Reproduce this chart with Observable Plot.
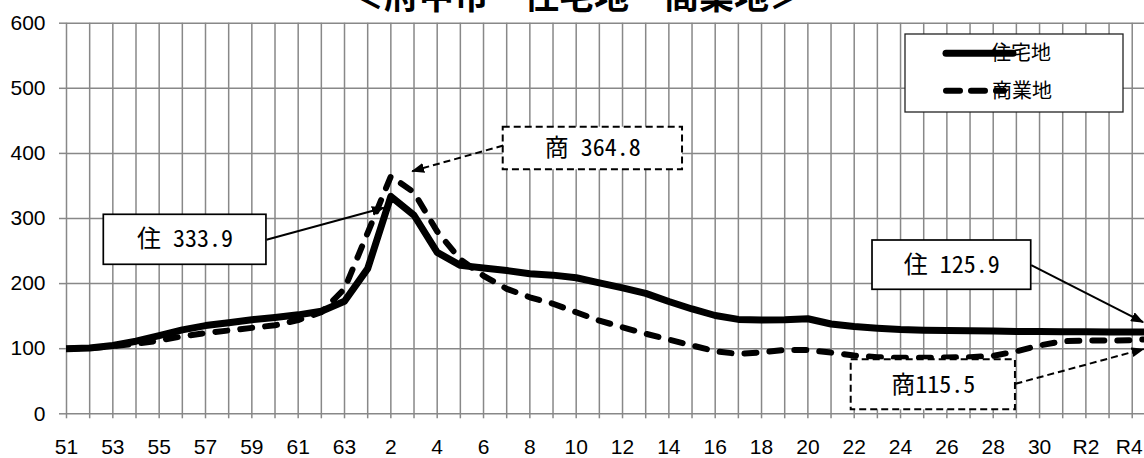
<!DOCTYPE html>
<html>
<head>
<meta charset="utf-8">
<script src="https://cdn.jsdelivr.net/npm/d3@7"></script>
<script src="https://cdn.jsdelivr.net/npm/@observablehq/plot@0.6"></script>
<style>
  html, body { margin: 0; padding: 0; background: #fff; overflow: hidden; }
  #chart { width: 1144px; height: 458px; }
</style>
</head>
<body>
<div id="chart"></div>
<script>
// ---- data ----
const years = [1976,1977,1978,1979,1980,1981,1982,1983,1984,1985,1986,1987,1988,1989,1990,1991,1992,1993,1994,1995,1996,1997,1998,1999,2000,2001,2002,2003,2004,2005,2006,2007,2008,2009,2010,2011,2012,2013,2014,2015,2016,2017,2018,2019,2020,2021,2022,2023];
const residential = [100,101,105,111.5,120,129,135.5,140,144.5,148,152,157.5,173,223,333.9,305,248,228,224,220,215,213,209,201,193.5,185,172.5,161,151,145,144,144.5,146,138,134,131.5,129.5,128.5,128,127.5,127,126.5,126.5,126,126,125.5,125.5,125.9];
const commercial = [100,101,104,107.5,112.5,119,124,128,132,136,144,156,192,278,364.8,340,280,237,212,192,179,169,156,143,133,123,114,105,96,92,94.5,98,98,94,89.5,87,86,86,86.5,87,89,96,105,111.5,112.5,112.5,113,115.5];
const seriesNames = ["住宅地", "商業地"];
const tickYears = [1976,1978,1980,1982,1984,1986,1988,1990,1992,1994,1996,1998,2000,2002,2004,2006,2008,2010,2012,2014,2016,2018,2020,2022];
const tickLabels = ["51","53","55","57","59","61","63","2","4","6","8","10","12","14","16","18","20","22","24","26","28","30","R2","R4"];
const yTicks = [0,100,200,300,400,500,600];
const titleText = "＜府中市　住宅地・商業地＞";
const calloutTexts = ["住 333.9", "商 364.8", "住 125.9", "商115.5"];

// ---- layout of callouts (in data units) ----
const callouts = [
  {text: calloutTexts[0], dashed: false, x1: 1977.61, x2: 1984.63, y1: 228.9, y2: 305.7, ax1: 1984.63, ay1: 267.3, ax2: 1989.70, ay2: 316.4},
  {text: calloutTexts[1], dashed: true,  x1: 1994.85, x2: 2002.59, y1: 374.8, y2: 440.2, ax1: 1994.85, ay1: 412.1, ax2: 1990.92, ay2: 372.7},
  {text: calloutTexts[2], dashed: false, x1: 2010.79, x2: 2017.64, y1: 190.5, y2: 266.2, ax1: 2017.64, ay1: 228.3, ax2: 2022.47, ay2: 140.7},
  {text: calloutTexts[3], dashed: true,  x1: 2009.87, x2: 2016.96, y1: 6.1,   y2: 82.9,  ax1: 2016.96, ay1: 46.1,  ax2: 2022.49, ay2: 99.5}
];

const resRows = years.map((yr, i) => ({year: yr, value: residential[i], series: seriesNames[0]}));
const comRows = years.map((yr, i) => ({year: yr, value: commercial[i], series: seriesNames[1]}));
const axisYears = years.filter(y => y <= tickYears[tickYears.length - 1]);
const labelByYear = new Map(tickYears.map((y, i) => [y, tickLabels[i]]));

const FONT = "'Noto Sans CJK JP', 'Noto Sans', sans-serif";
const TICKFONT = "'Liberation Sans', Arial, sans-serif";
const MONO = "'Noto Sans Mono CJK JP', 'Noto Sans CJK JP', sans-serif";
const GRID = "#888888";

const solidC = callouts.filter(d => !d.dashed);
const dashC = callouts.filter(d => d.dashed);

const plot = Plot.plot({
  width: 1144,
  height: 458,
  marginLeft: 66,
  marginRight: 0,
  marginTop: 22.7,
  marginBottom: 44.7,
  style: {fontFamily: FONT, fontSize: "21px", background: "white", color: "black"},
  x: {type: "linear", domain: [1976, 2022.53]},
  y: {domain: [0, 600]},
  marks: [
    Plot.ruleX(axisYears, {x: d => d, y1: 0, y2: 600, stroke: GRID, strokeWidth: 1.5}),
    Plot.ruleY(yTicks, {y: d => d, stroke: GRID, strokeWidth: 1.5}),
    Plot.axisX({ticks: axisYears, tickFormat: y => labelByYear.get(y) ?? "", tickSize: 5, tickPadding: 20, stroke: GRID, strokeWidth: 1.5, fill: "black", fontSize: 21, fontFamily: TICKFONT, label: null}),
    Plot.axisY({ticks: yTicks, tickSize: 7, tickPadding: 14, stroke: GRID, strokeWidth: 1.5, fill: "black", fontSize: 21, fontFamily: TICKFONT, label: null}),
    Plot.line(comRows, {x: "year", y: "value", stroke: "black", strokeWidth: 6, strokeDasharray: "12,13", strokeLinecap: "round", strokeLinejoin: "round", clip: true}),
    Plot.line(resRows, {x: "year", y: "value", stroke: "black", strokeWidth: 7, strokeLinejoin: "round", clip: true}),
    Plot.rect(solidC, {x1: "x1", x2: "x2", y1: "y1", y2: "y2", fill: "white", stroke: "black", strokeWidth: 1.7}),
    Plot.rect(dashC, {x1: "x1", x2: "x2", y1: "y1", y2: "y2", fill: "white", stroke: "black", strokeWidth: 2, strokeDasharray: "7,4"}),
    Plot.text(callouts, {x: d => (d.x1 + d.x2) / 2, y: d => (d.y1 + d.y2) / 2, text: "text", fontSize: 24, fontFamily: MONO, fill: "black"}),
    Plot.link(solidC, {x1: "ax1", y1: "ay1", x2: "ax2", y2: "ay2", stroke: "black", strokeWidth: 2}),
    Plot.link(dashC, {x1: "ax1", y1: "ay1", x2: "ax2", y2: "ay2", stroke: "black", strokeWidth: 2, strokeDasharray: "7,4"})
  ]
});

const svg = d3.select(plot);
const defs = svg.append("defs");
defs.append("marker")
  .attr("id", "tri")
  .attr("viewBox", "0 0 13 10")
  .attr("refX", 12)
  .attr("refY", 5)
  .attr("markerWidth", 13)
  .attr("markerHeight", 10)
  .attr("markerUnits", "userSpaceOnUse")
  .attr("orient", "auto")
  .append("path")
  .attr("d", "M0,0L13,5L0,10Z")
  .attr("fill", "black")
  .attr("stroke", "none");
svg.selectAll('g[aria-label="link"] path, g[aria-label="link"] line')
  .attr("marker-end", "url(#tri)");

// keep the last x tick label inside the picture
const lastLabel = tickLabels[tickLabels.length - 1];
svg.selectAll("text").filter(function() { return this.textContent === lastLabel; })
  .attr("dx", -3);

// title (partly cut at top as in the reference)
svg.append("text")
  .attr("x", 576.5).attr("y", 9)
  .attr("text-anchor", "middle")
  .attr("font-family", FONT)
  .attr("font-size", 35)
  .attr("font-weight", "bold")
  .attr("fill", "black")
  .text(titleText);

// legend inside the plot area
const lg = svg.append("g");
lg.append("rect").attr("x", 905).attr("y", 34).attr("width", 218).attr("height", 78)
  .attr("fill", "white").attr("stroke", "#222").attr("stroke-width", 1.3);
lg.append("line").attr("x1", 946).attr("x2", 1013).attr("y1", 53.3).attr("y2", 53.3)
  .attr("stroke", "black").attr("stroke-width", 7).attr("stroke-linecap", "round");
lg.append("line").attr("x1", 946).attr("x2", 1004).attr("y1", 90.7).attr("y2", 90.7)
  .attr("stroke", "black").attr("stroke-width", 6).attr("stroke-linecap", "round").attr("stroke-dasharray", "14,11");
lg.append("text").attr("x", 1021).attr("y", 53.3).attr("dy", "0.35em")
  .attr("font-family", FONT).attr("font-size", 20).attr("fill", "black").text(seriesNames[0]);
lg.append("text").attr("x", 1022).attr("y", 90.7).attr("dy", "0.35em")
  .attr("font-family", FONT).attr("font-size", 20).attr("fill", "black").text(seriesNames[1]);

document.getElementById("chart").appendChild(plot);
</script>
</body>
</html>
